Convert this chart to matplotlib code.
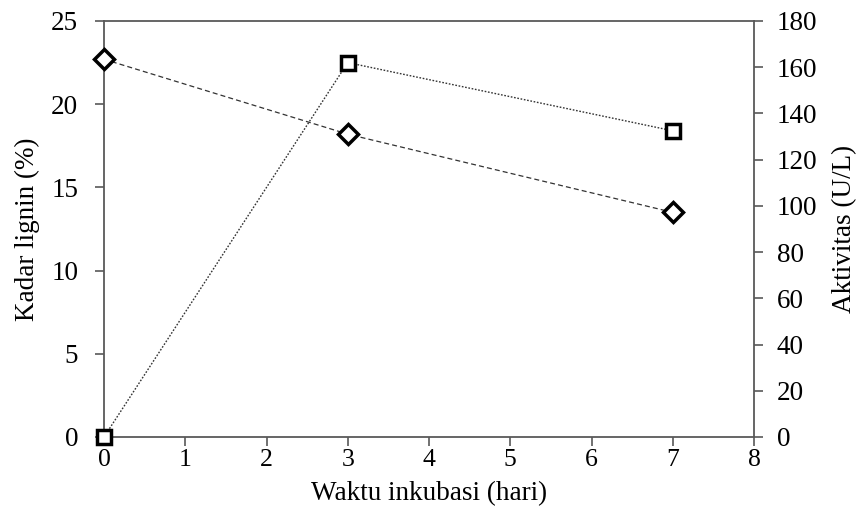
import numpy as np
import matplotlib
matplotlib.use("Agg")
import matplotlib.pyplot as plt

plt.rcParams['font.family'] = ['Liberation Serif', 'DejaVu Serif']

hari = [0, 3, 7]
lignin = [22.7, 18.2, 13.5]       # Kadar lignin (%)
aktivitas = [0.0, 162.0, 132.5]   # Aktivitas (U/L)

fs = 19.5
spine_col = '#595959'

fig = plt.figure(figsize=(8.63, 5.13), dpi=100)
ax = fig.add_axes([104/863, 76/513, 650/863, 416/513])
ax2 = ax.twinx()

ax.plot(hari, lignin, linestyle=(0, (4, 2.5)), color='#333333', lw=0.9,
        marker='D', markersize=10.5, markerfacecolor='white',
        markeredgecolor='black', markeredgewidth=2.5, zorder=3)
ax2.plot(hari, aktivitas, linestyle=(0, (1.2, 1.2)), color='#333333', lw=1.0,
         marker='s', markersize=10.5, markerfacecolor='white',
         markeredgecolor='black', markeredgewidth=2.5, zorder=3)

ax.set_xlim(0, 8)
ax.set_ylim(0, 25)
ax2.set_ylim(0, 180)
ax.set_xticks(range(0, 9))
ax.set_yticks(range(0, 26, 5))
ax2.set_yticks(range(0, 181, 20))

for a in (ax, ax2):
    for s in a.spines.values():
        s.set_color(spine_col)
        s.set_linewidth(1.3)
    a.tick_params(direction='out', length=6.5, width=1.2, color=spine_col,
                  labelsize=fs, labelcolor='black')
ax.tick_params(axis='y', pad=12)
ax2.tick_params(axis='y', pad=10)
ax.tick_params(axis='x', pad=2.5, labelsize=18.5)
ax.spines['right'].set_visible(False)
ax2.spines['left'].set_visible(False)
ax2.spines['bottom'].set_visible(False)
ax2.spines['top'].set_visible(False)

for ln in ax.lines + ax2.lines:
    ln.set_clip_on(False)

ax.set_xlabel('Waktu inkubasi (hari)', fontsize=fs)
ax.set_ylabel('Kadar lignin (%)', fontsize=fs)
ax2.set_ylabel('Aktivitas (U/L)', fontsize=fs)
ax.xaxis.set_label_coords(0.5, -0.105)
ax.yaxis.set_label_coords(-0.099, 0.5)
ax2.yaxis.set_label_coords(1.12, 0.5)

fig.savefig('out.png', dpi=100)
